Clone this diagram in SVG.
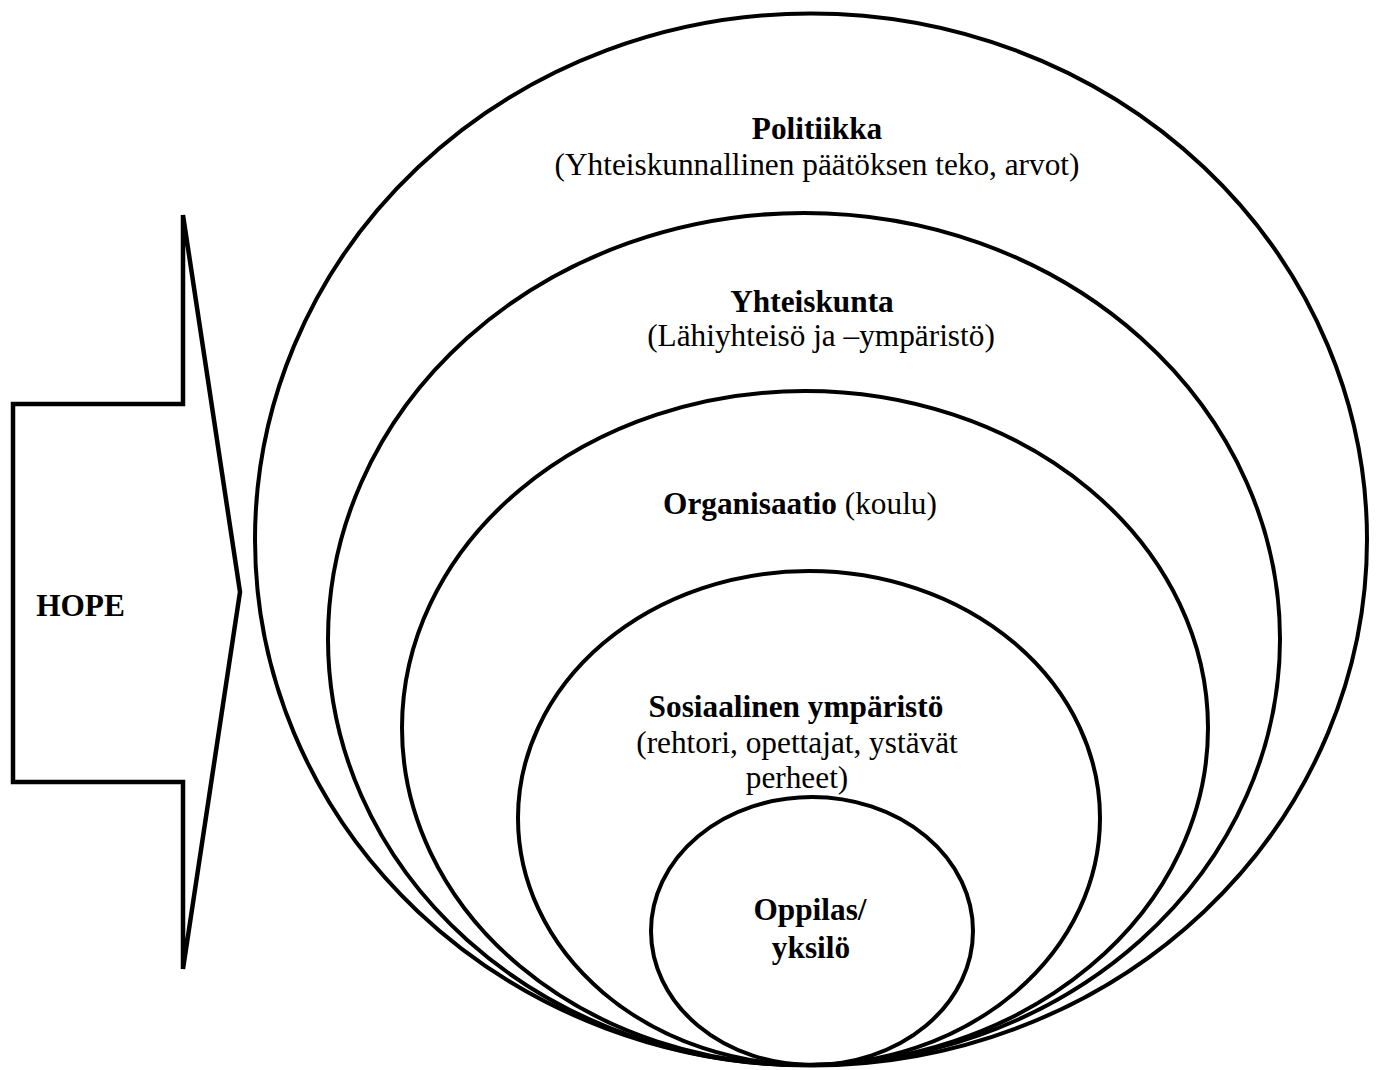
<svg xmlns="http://www.w3.org/2000/svg" width="1377" height="1070" viewBox="0 0 1377 1070">
<style>
.ring{fill:none;stroke:#000;stroke-width:4}
.arrow{fill:none;stroke:#000;stroke-width:4.5;stroke-linejoin:miter}
text{font-family:"Liberation Serif","Times New Roman",serif;font-size:31.3px;fill:#000;text-anchor:middle}
.b{font-weight:bold}
</style>
<rect width="1377" height="1070" fill="#fff"/>
<g id="hope">
<polygon class="arrow" points="183,215 183,404 13,404 13,782 183,782 183,969 240,592"/>
<text class="b" x="80.5" y="616">HOPE</text>
</g>
<g id="politiikka">
<ellipse class="ring" cx="811" cy="539.5" rx="556" ry="526"/>
<text class="b" x="817" y="139">Politiikka</text>
<text x="817" y="175">(Yhteiskunnallinen päätöksen teko, arvot)</text>
</g>
<g id="yhteiskunta">
<ellipse class="ring" cx="804" cy="639" rx="476" ry="426"/>
<text class="b" x="812" y="312">Yhteiskunta</text>
<text x="821" y="346">(Lähiyhteisö ja –ympäristö)</text>
</g>
<g id="organisaatio">
<ellipse class="ring" cx="805" cy="728" rx="403" ry="337"/>
<text x="800" y="514"><tspan class="b">Organisaatio</tspan> (koulu)</text>
</g>
<g id="sosiaalinen">
<ellipse class="ring" cx="809" cy="818" rx="291" ry="247"/>
<text class="b" x="796" y="717">Sosiaalinen ympäristö</text>
<text x="797" y="753">(rehtori, opettajat, ystävät</text>
<text x="797" y="788">perheet)</text>
</g>
<g id="oppilas">
<ellipse class="ring" cx="812" cy="931" rx="161" ry="134"/>
<text class="b" x="810" y="920">Oppilas/</text>
<text class="b" x="811" y="958">yksilö</text>
</g>
<g id="connectors"></g>
</svg>
